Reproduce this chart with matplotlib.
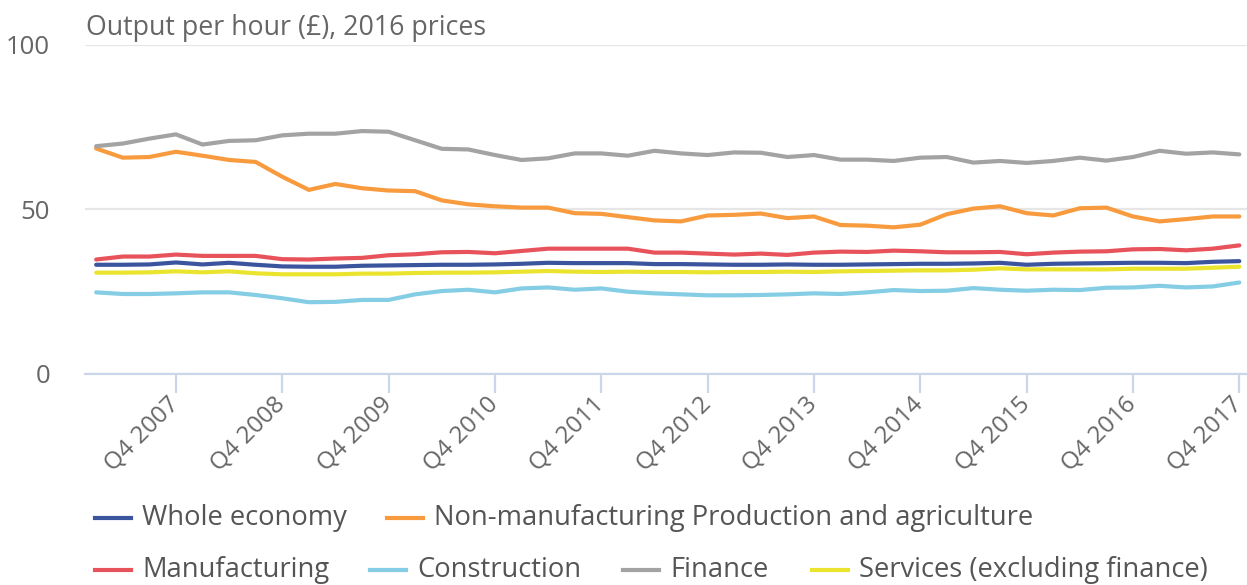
import matplotlib
matplotlib.use("Agg")
import matplotlib.pyplot as plt
from matplotlib.lines import Line2D

plt.rcParams['font.family'] = ['Open Sans', 'DejaVu Sans']

# Quarters Q1 2007 .. Q4 2017
quarters = [f"Q{q} {y}" for y in range(2007, 2018) for q in range(1, 5)]
tick_labels = [f"Q4 {y}" for y in range(2007, 2018)]

series_names = [
    "Whole economy",
    "Non-manufacturing Production and agriculture",
    "Manufacturing",
    "Construction",
    "Finance",
    "Services (excluding finance)",
]

whole_economy = [33.1, 33.1, 33.2, 33.8, 33.2, 33.7, 33.1, 32.6, 32.5, 32.5, 32.8,
                 32.9, 33.0, 33.1, 33.1, 33.2, 33.4, 33.7, 33.6, 33.6, 33.6, 33.3,
                 33.3, 33.2, 33.1, 33.1, 33.2, 33.1, 33.1, 33.2, 33.3, 33.4, 33.4,
                 33.5, 33.7, 33.1, 33.4, 33.5, 33.6, 33.7, 33.7, 33.6, 34.0, 34.2]
non_manufacturing = [68.5, 65.7, 65.9, 67.5, 66.3, 65.0, 64.4, 59.9, 55.9, 57.7, 56.4,
                     55.7, 55.5, 52.7, 51.5, 50.9, 50.5, 50.5, 48.8, 48.6, 47.6, 46.6,
                     46.3, 48.1, 48.3, 48.7, 47.3, 47.8, 45.2, 45.0, 44.5, 45.3, 48.5,
                     50.2, 50.9, 48.8, 48.1, 50.3, 50.5, 47.8, 46.3, 47.0, 47.8, 47.8]
manufacturing = [34.7, 35.6, 35.6, 36.2, 35.8, 35.8, 35.8, 34.8, 34.7, 35.0, 35.2,
                 36.0, 36.3, 36.9, 37.0, 36.6, 37.3, 38.0, 38.0, 38.0, 38.0, 36.8,
                 36.8, 36.5, 36.2, 36.5, 36.1, 36.8, 37.1, 37.0, 37.4, 37.2, 36.9,
                 36.9, 37.0, 36.3, 36.8, 37.1, 37.2, 37.8, 37.9, 37.5, 38.0, 39.0]
construction = [24.7, 24.2, 24.2, 24.4, 24.7, 24.7, 23.9, 22.9, 21.7, 21.8, 22.4,
                22.4, 24.1, 25.1, 25.5, 24.7, 25.9, 26.2, 25.5, 25.9, 24.9, 24.4,
                24.1, 23.8, 23.8, 23.9, 24.1, 24.4, 24.2, 24.7, 25.4, 25.1, 25.2,
                26.0, 25.5, 25.2, 25.5, 25.4, 26.1, 26.2, 26.7, 26.2, 26.5, 27.7]
finance = [69.2, 70.0, 71.5, 72.8, 69.7, 70.8, 71.0, 72.5, 73.0, 73.0, 73.8,
           73.6, 71.0, 68.4, 68.2, 66.5, 65.0, 65.5, 67.0, 67.0, 66.3, 67.8,
           67.0, 66.5, 67.3, 67.2, 65.9, 66.5, 65.1, 65.1, 64.7, 65.7, 65.9,
           64.2, 64.7, 64.1, 64.7, 65.7, 64.8, 65.9, 67.8, 66.9, 67.3, 66.7]
services = [30.7, 30.7, 30.8, 31.1, 30.8, 31.1, 30.5, 30.2, 30.2, 30.2, 30.4,
            30.4, 30.6, 30.7, 30.7, 30.8, 31.0, 31.2, 31.0, 30.9, 31.0, 30.9,
            30.9, 30.8, 30.9, 30.9, 31.0, 30.9, 31.1, 31.2, 31.3, 31.4, 31.4,
            31.6, 32.0, 31.7, 31.7, 31.7, 31.7, 31.9, 31.9, 31.9, 32.2, 32.5]

series = [whole_economy, non_manufacturing, manufacturing, construction, finance, services]
colors = ['#3b549e', '#f89b3e', '#e8525a', '#85cde4', '#a3a3a3', '#ebe42f']

W, H = 1247, 585
fig = plt.figure(figsize=(W / 100, H / 100), dpi=100)
ax = fig.add_axes([85 / W, (H - 373.5) / H, (W - 85) / W, (373.5 - 45) / H])

x = list(range(len(quarters)))
for vals, c, name in zip(series, colors, series_names):
    ax.plot(x, vals, color=c, lw=3, solid_capstyle='round', solid_joinstyle='round',
            label=name, zorder=3)

ax.set_xlim(-0.42, 43.29)
ax.set_ylim(0, 100)
ax.set_yticks([0, 50, 100])
ax.grid(axis='y', color='#e6e6e6', lw=1.6, zorder=0)
for s in ['top', 'right', 'left']:
    ax.spines[s].set_visible(False)
ax.spines['bottom'].set_color('#ccd6eb')
ax.spines['bottom'].set_linewidth(1.6)
ax.spines['bottom'].set_zorder(2)

ax.tick_params(axis='y', length=0, pad=25, labelsize=18.5, labelcolor='#666666')
ax.set_xticks([quarters.index(t) for t in tick_labels])
ax.set_xticklabels(tick_labels, rotation=45, ha='right', va='center',
                   rotation_mode='anchor', fontsize=17.5, color='#666666')
ax.tick_params(axis='x', length=14, width=1.6, color='#ccd6eb', pad=6)

fig.text(86 / W, 1 - 28 / H, "Output per hour (£), 2016 prices", fontsize=19.3,
         color='#666666', va='center', ha='left')

# legend, drawn by hand in pixel positions
legend_pos = [(95, 518), (387, 518), (95, 570), (370, 570), (623, 570), (812, 570)]
for (px, py), c, name in zip(legend_pos, colors, series_names):
    fig.add_artist(Line2D([px / W, (px + 36) / W], [1 - py / H, 1 - py / H],
                          color=c, lw=3, transform=fig.transFigure))
    fig.text((px + 47) / W, 1 - py / H, name, fontsize=19.7, color='#555555',
             va='center', ha='left')

fig.savefig("out.png", dpi=100)
